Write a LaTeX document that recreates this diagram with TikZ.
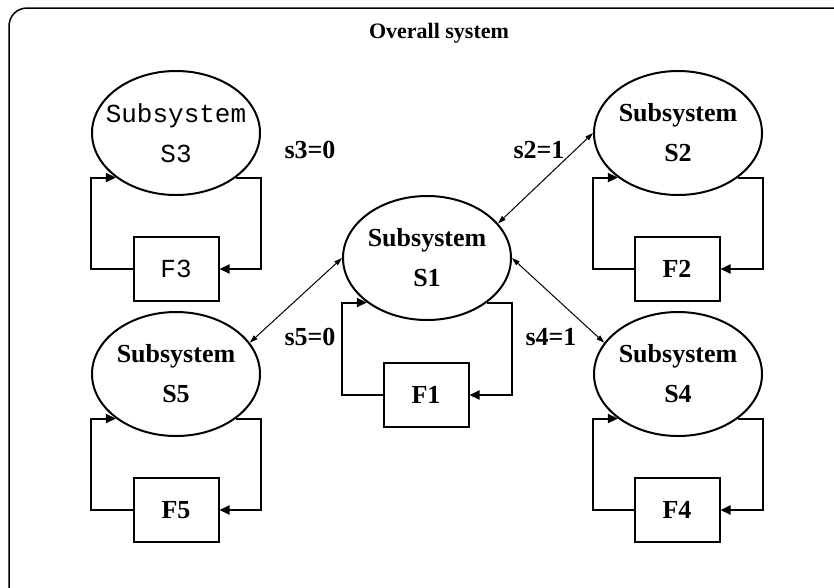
\documentclass[tikz,border=0pt]{standalone}
\usepackage{fontspec}
\setmainfont{Liberation Serif}
\setmonofont{Liberation Mono}
\usetikzlibrary{shapes.geometric,arrows.meta}

\tikzset{
    subsys/.style = {draw, ellipse, line width = 2pt, minimum width = 168pt, minimum height = 124pt, inner sep = 0pt, align = center, font = \fontsize{26}{40}\selectfont\bfseries},
    fbox/.style = {draw, rectangle, line width = 2pt, minimum width = 85pt, minimum height = 64pt, inner sep = 0pt, font = \fontsize{26}{40}\selectfont\bfseries},
    mono/.style = {font = \fontsize{26}{40}\selectfont\ttfamily},
    monosub/.style = {mono, inner xsep = -12pt},
    fb/.style = {-{Triangle[length = 10pt, width = 9pt]}, line width = 2pt},
    link/.style = {{Triangle[length = 8pt, width = 5pt]}-{Triangle[length = 8pt, width = 5pt]}, line width = 1pt},
    state/.style = {font = \fontsize{26}{30}\selectfont\bfseries}
}

\begin{document}
\begin{tikzpicture}[x = 1pt, y = -1pt]
        \useasboundingbox (0, 0) rectangle (834, 587);
        \clip (0, 0) rectangle (834, 587);

        % Frame
        \draw [line width = 1.5pt, rounded corners = 18pt] (9, 8) rectangle (852, 604);
        \node [font = \fontsize{22}{26}\selectfont\bfseries] (title) at (439, 33) {Overall system};

        % Subsystems
        \node [subsys] (s1) at (427, 258) {Subsystem\\S1};
        \node [subsys] (s2) at (678, 133) {Subsystem\\S2};
        \node [subsys, monosub] (s3) at (176, 133) {Subsystem\\S3};
        \node [subsys] (s4) at (678, 374) {Subsystem\\S4};
        \node [subsys] (s5) at (176, 374) {Subsystem\\S5};

        % Functions
        \node [fbox] (f1) at (426, 395) {F1};
        \node [fbox] (f2) at (677, 269) {F2};
        \node [fbox, mono] (f3) at (176, 269) {F3};
        \node [fbox] (f4) at (677, 510) {F4};
        \node [fbox] (f5) at (176, 510) {F5};

        % Feedback loops
        \foreach \i in {1,...,5} {
            \draw [fb] (f\i.west) -| (s\i.west |- s\i.south west) -- (s\i.south west);
            \draw [fb] (s\i.south east) -| (s\i.east |- f\i.east) -- (f\i.east);
        }

        % Draw the links
        \draw [link] (s1.26) -- (s2.west);
        \draw [link] (s1.east) -- (s4.157);
        \draw [link] (s1.west) -- (s5.23);

        % Switch states
        \node [state] (s3val) at (310, 150) {s3=0};
        \node [state] (s2val) at (539, 150) {s2=1};
        \node [state] (s5val) at (310, 337) {s5=0};
        \node [state] (s4val) at (551, 337) {s4=1};

    \end{tikzpicture}
\end{document}
